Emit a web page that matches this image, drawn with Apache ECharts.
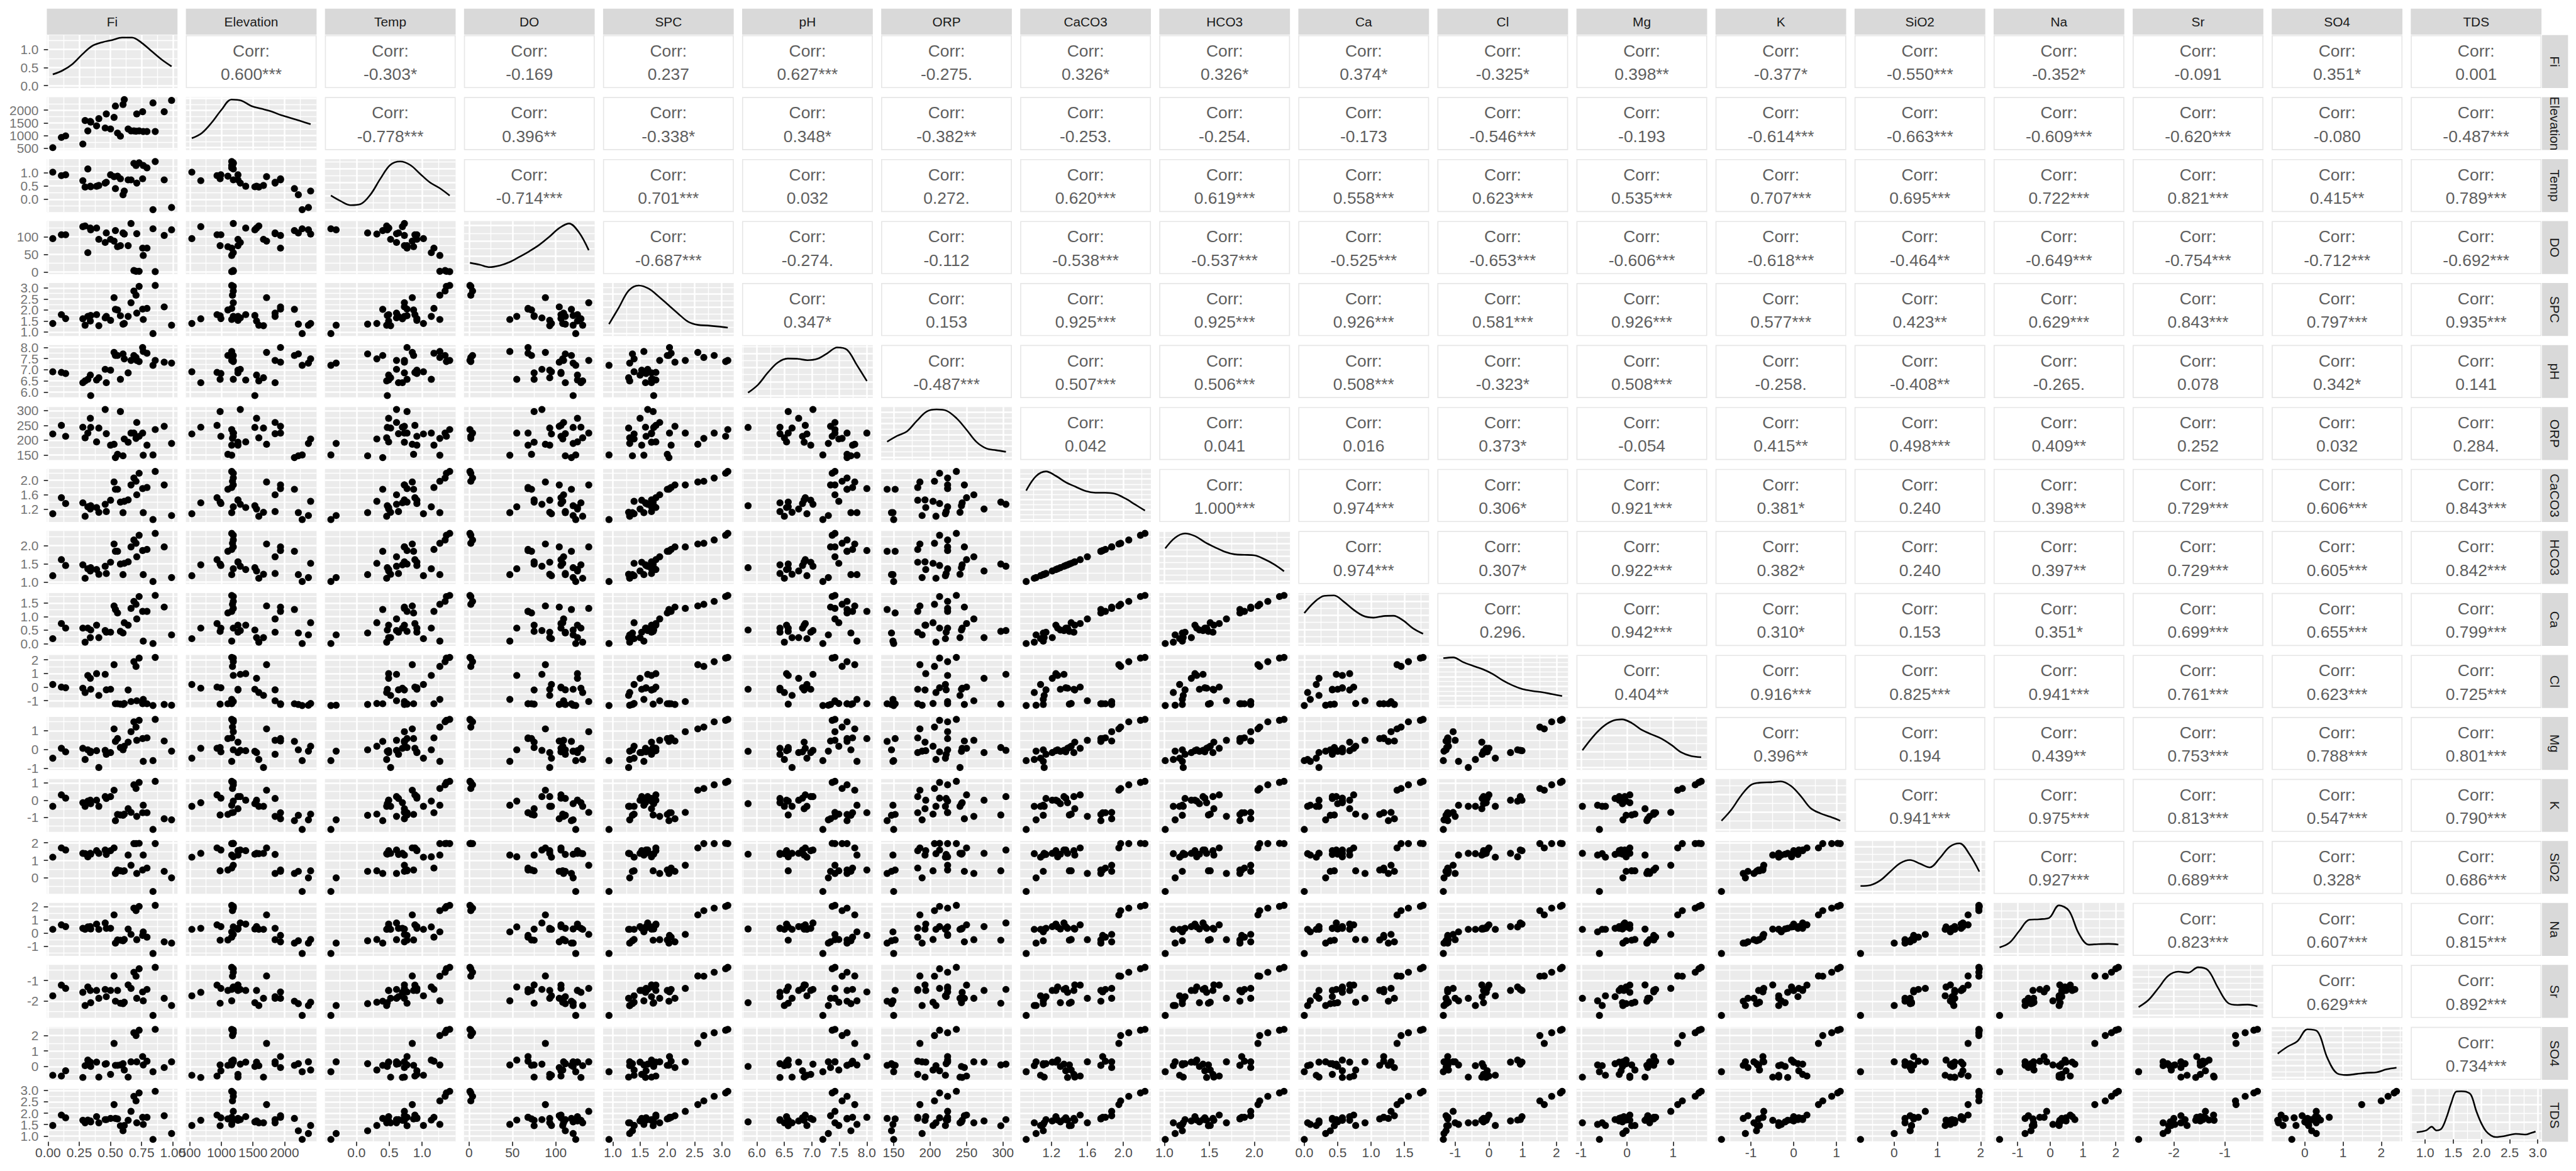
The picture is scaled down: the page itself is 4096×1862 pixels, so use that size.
<!DOCTYPE html>
<html><head><meta charset="utf-8">
<script src="https://cdn.jsdelivr.net/npm/echarts@6/dist/echarts.min.js"></script>
<style>html,body{margin:0;padding:0;background:#fff;}#chart{width:4096px;height:1862px;}</style>
</head><body><div id="chart"></div>
<script>
// ---------------- variable names ----------------
const names = ['Fi','Elevation','Temp','DO','SPC','pH','ORP','CaCO3','HCO3','Ca','Cl','Mg','K','SiO2','Na','Sr','SO4','TDS'];

const Fi        = [0.038,0.107,0.141,0.279,0.297,0.319,0.339,0.342,0.389,0.407,0.458,0.467,0.501,0.529,0.540,0.557,0.580,0.601,0.611,0.642,0.665,0.688,0.711,0.705,0.730,0.758,0.763,0.793,0.841,0.859,0.931,0.990];
const Elevation = [530,930,991,672,1593,1188,1557,1530,1385,1667,1299,1851,1262,1716,2158,1102,979,2220,2415,1262,1188,1188,1851,1175,1188,1937,1163,1163,2281,1163,1937,2380];
const Temp      = [1.02,0.89,0.92,0.70,0.46,1.14,0.49,0.47,0.49,0.52,0.61,0.64,0.92,0.85,0.40,0.87,0.77,0.17,0.31,0.73,0.73,1.35,0.61,1.27,1.37,0.77,1.27,1.18,-0.39,1.42,0.73,-0.31];
const DO        = [95,106,106,129,131,55,125,120,125,93,84,111,93,88,118,72,75,111,108,75,138,4,109,2,2,68,47,68,123,1,104,120];
const SPC       = [1.39,1.79,1.61,1.60,1.31,1.71,1.50,1.75,1.79,1.29,1.64,1.71,1.53,2.56,2.03,2.00,1.74,1.36,1.39,1.71,2.33,2.86,1.86,2.67,3.07,2.04,1.57,2.07,0.93,3.11,2.14,1.31];
const pH        = [6.91,6.88,6.83,6.42,6.50,6.57,6.76,5.84,6.54,6.64,7.02,6.42,6.98,7.78,7.64,7.64,6.57,7.71,7.49,6.86,7.42,7.64,7.42,7.55,7.37,8.00,7.82,7.74,7.20,7.42,7.34,7.30];
const ORP       = [221,250,213,244,208,224,274,243,194,241,304,222,183,186,141,152,297,147,204,193,224,224,260,206,213,224,149,183,150,236,247,189];
const CaCO3     = [1.08,1.52,1.36,1.38,1.01,1.27,1.21,1.30,1.25,1.12,1.34,1.14,1.45,1.95,1.75,1.75,1.40,1.11,1.42,1.46,1.87,2.06,1.60,1.97,2.19,1.77,1.11,1.80,0.92,2.24,1.87,1.03];
const HCO3      = [1.17,1.61,1.45,1.47,1.10,1.36,1.30,1.39,1.34,1.21,1.43,1.23,1.54,2.04,1.84,1.84,1.49,1.20,1.51,1.55,1.96,2.15,1.69,2.06,2.28,1.86,1.20,1.89,1.01,2.33,1.96,1.12];
const Ca        = [0.18,0.74,0.57,0.57,0.05,0.57,0.22,0.50,0.68,0.22,0.48,0.42,0.42,1.39,1.26,1.13,0.45,0.39,0.77,0.68,1.30,1.56,0.91,1.45,1.74,1.19,0.09,1.19,0.00,1.78,1.35,0.32];
const Cl        = [0.19,0.00,-0.05,-0.08,-0.40,0.85,0.64,-0.16,0.98,-0.61,0.93,-0.20,-0.16,1.64,-1.22,-1.22,-1.25,-1.27,-1.20,-0.21,-1.06,1.86,-1.00,1.51,2.12,-1.22,-0.90,-1.22,-1.35,2.17,-1.27,-1.33];
const Mg        = [-0.47,0.06,-0.13,0.06,-0.54,-0.02,-0.17,-0.10,-0.07,-0.97,-0.05,-0.26,-0.17,1.10,0.43,0.58,0.10,-0.02,0.17,0.39,0.95,1.48,0.49,1.20,1.56,0.58,-0.64,0.62,-0.60,1.61,0.45,-0.09];
const K         = [-0.35,0.31,0.12,-0.14,-0.35,-0.05,0.00,-0.20,0.00,-0.35,0.21,0.10,0.21,0.58,-1.18,-0.82,-0.85,-0.87,-0.80,-0.49,-0.70,0.89,-0.93,0.68,1.03,-0.72,-0.29,-0.72,-1.69,1.09,-1.07,-1.13];
const SiO2      = [1.18,1.71,1.59,1.40,1.38,1.20,1.40,1.35,1.55,1.40,1.59,1.34,1.55,1.71,0.25,0.45,0.40,0.37,0.40,1.30,0.72,1.96,0.25,1.96,1.97,0.45,1.30,0.56,-0.78,1.96,0.37,0.00];
const Na        = [0.27,0.61,0.48,0.35,0.27,0.45,0.48,0.30,0.67,0.27,0.75,0.35,0.35,1.36,-0.77,-0.53,-0.55,-0.59,-0.50,0.29,-0.11,1.87,-0.51,1.68,2.00,-0.19,0.08,-0.32,-1.55,2.08,-0.67,-0.77];
const Sr        = [-1.74,-1.22,-1.38,-1.57,-2.21,-1.31,-1.48,-2.07,-1.48,-1.86,-1.43,-1.78,-1.48,-0.78,-2.00,-1.48,-2.10,-2.12,-2.05,-1.21,-1.38,-0.60,-1.86,-0.79,-0.43,-1.55,-1.98,-1.43,-2.69,-0.36,-1.86,-2.21];
const SO4       = [-0.57,-0.62,-0.28,-0.71,0.05,0.41,0.28,0.00,0.28,-0.69,0.15,0.18,-0.51,1.49,0.07,0.07,0.10,0.18,-0.23,-0.69,0.30,2.18,0.30,2.00,2.34,0.64,0.10,0.34,-0.34,2.40,-0.07,0.30];
const TDS       = [1.46,1.92,1.80,1.69,1.58,1.70,1.66,1.62,1.85,1.58,1.72,1.72,1.77,2.38,1.77,1.75,1.45,1.23,1.46,1.69,2.08,2.74,1.58,2.54,2.89,1.82,1.51,1.82,0.85,2.96,1.89,1.11];

// ---------------- tick labels (axis breaks) ----------------
const ticksFi = [0,0.25,0.5,0.75,1];
const ticksElevation = [500,1000,1500,2000];
const ticksTemp = [0,0.5,1];
const ticksDO = [0,50,100];
const ticksSPC = [1,1.5,2,2.5,3];
const ticksPH = [6,6.5,7,7.5,8];
const ticksORP = [150,200,250,300];
const ticksCaCO3 = [1.2,1.6,2.0];
const ticksHCO3 = [1,1.5,2];
const ticksCa = [0,0.5,1,1.5];
const ticksCl = [-1,0,1,2];
const ticksMg = [-1,0,1];
const ticksK = [-1,0,1];
const ticksSiO2 = [0,1,2];
const ticksNa = [-1,0,1,2];
const ticksSr = [-2,-1];
const ticksSO4 = [0,1,2];
const ticksTDS = [1,1.5,2,2.5,3];
const tickDigits = [2,0,1,0,1,1,0,1,1,1,0,0,0,0,0,0,0,1];
const densTicksFi = [0,0.5,1.0];

// ---------------- diagonal density curves ----------------
const densXFi = [0.038,0.117,0.197,0.276,0.355,0.435,0.514,0.593,0.673,0.752,0.831,0.911,0.990];
const densYFi = [0.31,0.42,0.60,0.87,1.10,1.20,1.26,1.33,1.33,1.18,0.95,0.72,0.53];
const densXElevation = [530,687,844,1001,1158,1315,1473,1630,1787,1944,2101,2258,2415];
const densYElevation = [0.192,0.296,0.511,0.775,0.984,0.962,0.852,0.797,0.742,0.665,0.605,0.544,0.478];
const densXTemp = [-0.390,-0.239,-0.088,0.062,0.213,0.364,0.515,0.666,0.817,0.967,1.118,1.269,1.420];
const densYTemp = [0.292,0.175,0.093,0.115,0.313,0.643,0.929,1.0,0.929,0.747,0.566,0.445,0.292];
const densXDO = [1,12.4,23.8,35.3,46.7,58.1,69.5,80.9,92.3,103.8,115.2,126.6,138];
const densYDO = [0.183,0.142,0.093,0.126,0.197,0.307,0.423,0.555,0.720,0.902,1.0,0.819,0.445];
const densXSPC = [0.930,1.112,1.293,1.475,1.657,1.838,2.020,2.202,2.383,2.565,2.747,2.928,3.110];
const densYSPC = [0.197,0.544,0.896,1.0,0.935,0.775,0.593,0.412,0.247,0.181,0.168,0.148,0.123];
const densXPH = [5.84,6.02,6.20,6.38,6.56,6.74,6.92,7.10,7.28,7.46,7.64,7.82,8.00];
const densYPH = [0.060,0.225,0.478,0.687,0.769,0.764,0.736,0.764,0.879,1.0,0.951,0.632,0.302];
const densXORP = [141,154.6,168.2,181.8,195.3,208.9,222.5,236.1,249.7,263.3,276.8,290.4,304];
const densYORP = [0.329,0.450,0.544,0.764,0.957,1.0,0.973,0.819,0.583,0.329,0.192,0.153,0.120];
const densXCaCO3 = [0.92,1.03,1.14,1.25,1.36,1.47,1.58,1.69,1.80,1.91,2.02,2.13,2.24];
const densYCaCO3 = [0.601,0.902,1.0,0.907,0.775,0.681,0.593,0.558,0.557,0.533,0.440,0.313,0.186];
const densXHCO3 = [1.01,1.12,1.23,1.34,1.45,1.56,1.67,1.78,1.89,2.00,2.11,2.22,2.33];
const densYHCO3 = [0.689,0.912,1.0,0.945,0.819,0.714,0.621,0.566,0.555,0.544,0.467,0.357,0.214];
const densXCa = [0,0.148,0.297,0.445,0.593,0.742,0.890,1.038,1.187,1.335,1.483,1.632,1.780];
const densYCa = [0.632,0.857,0.990,1.0,0.868,0.698,0.571,0.538,0.571,0.577,0.478,0.313,0.203];
const densXCl = [-1.350,-1.057,-0.763,-0.470,-0.177,0.117,0.410,0.703,0.997,1.290,1.583,1.877,2.170];
const densYCl = [0.985,1.0,0.902,0.824,0.753,0.654,0.522,0.417,0.340,0.302,0.276,0.236,0.197];
const densXMg = [-0.970,-0.755,-0.540,-0.325,-0.110,0.105,0.320,0.535,0.750,0.965,1.180,1.395,1.610];
const densYMg = [0.357,0.621,0.836,0.967,1.0,0.923,0.780,0.687,0.599,0.467,0.313,0.236,0.214];
const densXK = [-1.690,-1.458,-1.227,-0.995,-0.763,-0.532,-0.300,-0.068,0.163,0.395,0.627,0.858,1.090];
const densYK = [0.181,0.412,0.709,0.929,0.975,0.982,1.0,0.907,0.698,0.445,0.335,0.263,0.181];
const densXSiO2 = [-0.780,-0.551,-0.322,-0.093,0.137,0.366,0.595,0.824,1.053,1.283,1.512,1.741,1.970];
const densYSiO2 = [0.114,0.131,0.230,0.412,0.588,0.654,0.579,0.500,0.692,0.929,1.0,0.775,0.412];
const densXNa = [-1.550,-1.248,-0.945,-0.643,-0.340,-0.038,0.265,0.568,0.870,1.173,1.475,1.778,2.080];
const densYNa = [0.123,0.220,0.467,0.693,0.704,0.731,0.99,0.88,0.412,0.181,0.192,0.197,0.183];
const densXSr = [-2.690,-2.496,-2.302,-2.108,-1.913,-1.719,-1.525,-1.331,-1.137,-0.943,-0.748,-0.554,-0.360];
const densYSr = [0.169,0.313,0.555,0.802,0.885,0.865,0.973,0.916,0.566,0.258,0.212,0.220,0.183];
const densXSO4 = [-0.710,-0.451,-0.192,0.068,0.327,0.586,0.845,1.104,1.363,1.623,1.882,2.141,2.400];
const densYSO4 = [0.480,0.621,0.731,0.97,0.93,0.401,0.082,0.049,0.071,0.093,0.104,0.164,0.197];
const densXTDS = [0.850,0.938,1.026,1.114,1.202,1.290,1.378,1.465,1.553,1.641,1.729,1.817,1.905,1.993,2.081,2.169,2.257,2.345,2.433,2.521,2.608,2.696,2.784,2.872,2.960];
const densYTDS = [0.151,0.164,0.192,0.263,0.186,0.225,0.456,0.764,0.995,1.0,0.99,0.918,0.599,0.346,0.170,0.082,0.049,0.060,0.076,0.098,0.115,0.109,0.101,0.131,0.164];

// ---------------- correlation labels (upper triangle, row by row) ----------------
const corrFi = ['0.600***','-0.303*','-0.169','0.237','0.627***','-0.275.','0.326*','0.326*','0.374*','-0.325*','0.398**','-0.377*','-0.550***','-0.352*','-0.091','0.351*','0.001'];
const corrElevation = ['-0.778***','0.396**','-0.338*','0.348*','-0.382**','-0.253.','-0.254.','-0.173','-0.546***','-0.193','-0.614***','-0.663***','-0.609***','-0.620***','-0.080','-0.487***'];
const corrTemp = ['-0.714***','0.701***','0.032','0.272.','0.620***','0.619***','0.558***','0.623***','0.535***','0.707***','0.695***','0.722***','0.821***','0.415**','0.789***'];
const corrDO = ['-0.687***','-0.274.','-0.112','-0.538***','-0.537***','-0.525***','-0.653***','-0.606***','-0.618***','-0.464**','-0.649***','-0.754***','-0.712***','-0.692***'];
const corrSPC = ['0.347*','0.153','0.925***','0.925***','0.926***','0.581***','0.926***','0.577***','0.423**','0.629***','0.843***','0.797***','0.935***'];
const corrPH = ['-0.487***','0.507***','0.506***','0.508***','-0.323*','0.508***','-0.258.','-0.408**','-0.265.','0.078','0.342*','0.141'];
const corrORP = ['0.042','0.041','0.016','0.373*','-0.054','0.415**','0.498***','0.409**','0.252','0.032','0.284.'];
const corrCaCO3 = ['1.000***','0.974***','0.306*','0.921***','0.381*','0.240','0.398**','0.729***','0.606***','0.843***'];
const corrHCO3 = ['0.974***','0.307*','0.922***','0.382*','0.240','0.397**','0.729***','0.605***','0.842***'];
const corrCa = ['0.296.','0.942***','0.310*','0.153','0.351*','0.699***','0.655***','0.799***'];
const corrCl = ['0.404**','0.916***','0.825***','0.941***','0.761***','0.623***','0.725***'];
const corrMg = ['0.396**','0.194','0.439**','0.753***','0.788***','0.801***'];
const corrK = ['0.941***','0.975***','0.813***','0.547***','0.790***'];
const corrSiO2 = ['0.927***','0.689***','0.328*','0.686***'];
const corrNa = ['0.823***','0.607***','0.815***'];
const corrSr = ['0.629***','0.892***'];
const corrSO4 = ['0.734***'];

// ---------------- assemble ----------------
const vars = [Fi,Elevation,Temp,DO,SPC,pH,ORP,CaCO3,HCO3,Ca,Cl,Mg,K,SiO2,Na,Sr,SO4,TDS];
const ticks = [ticksFi,ticksElevation,ticksTemp,ticksDO,ticksSPC,ticksPH,ticksORP,ticksCaCO3,ticksHCO3,ticksCa,ticksCl,ticksMg,ticksK,ticksSiO2,ticksNa,ticksSr,ticksSO4,ticksTDS];
const densXs = [densXFi,densXElevation,densXTemp,densXDO,densXSPC,densXPH,densXORP,densXCaCO3,densXHCO3,densXCa,densXCl,densXMg,densXK,densXSiO2,densXNa,densXSr,densXSO4,densXTDS];
const densYs = [densYFi,densYElevation,densYTemp,densYDO,densYSPC,densYPH,densYORP,densYCaCO3,densYHCO3,densYCa,densYCl,densYMg,densYK,densYSiO2,densYNa,densYSr,densYSO4,densYTDS];
const corrRows = [corrFi,corrElevation,corrTemp,corrDO,corrSPC,corrPH,corrORP,corrCaCO3,corrHCO3,corrCa,corrCl,corrMg,corrK,corrSiO2,corrNa,corrSr,corrSO4];

const S = 4096/5500;
const FONT = '"Liberation Sans", Arial, Helvetica, sans-serif';
const AX_FS = 28*S, STRIP_FS = 28*S, CORR_FS = 35.5*S;
const NV = names.length;
const colLeft = j => (100 + 296.9*j)*S;
const rowTop = i => (75 + 132.35*i)*S;
const PW = 279*S, PH = 113*S;

function fmt(v, d){ return (Math.abs(v) < 1e-12 ? 0 : v).toFixed(d); }

// ggplot-like continuous range: data range expanded by 5%
const ranges = vars.map(v => { const mn = Math.min(...v), mx = Math.max(...v), d = (mx - mn)*0.05; return [mn - d, mx + d]; });

// densities: Fi is in true units, others scaled so the curve integrates to one
const dens = densYs.map((ys, k) => {
  if (k === 0) return ys.slice();
  const xs = densXs[k]; let area = 0;
  for (let t = 1; t < xs.length; t++) area += (xs[t] - xs[t-1])*(ys[t] + ys[t-1])/2;
  return ys.map(y => y/area);
});

// labeling::extended (ggplot's default break algorithm), used for the density axes
function extendedBreaks(dmin, dmax, m){
  const Q = [1,5,2,2.5,4,3], w = [0.25,0.2,0.5,0.05], n = Q.length, eps = 1e-10;
  const mod = (a,b) => ((a % b) + b) % b;
  let best = null, bestScore = -2;
  const range = dmax - dmin;
  outer:
  for (let j = 1; j < 40; j++){
    for (let qi = 0; qi < n; qi++){
      const q = Q[qi];
      const sm = 1 - qi/(n-1) - j + 1;
      if (w[0]*sm + w[1] + w[2] + w[3] < bestScore) break outer;
      for (let k = 2; k < 40; k++){
        const dm = k >= m ? 2 - (k-1)/(m-1) : 1;
        if (w[0]*sm + w[1] + w[2]*dm + w[3] < bestScore) break;
        const delta = range/(k+1)/j/q;
        for (let z = Math.ceil(Math.log10(delta)); z < 40; z++){
          const step = j*q*Math.pow(10, z);
          const span = step*(k-1);
          let cm = 1;
          if (span > range){ const half = (span - range)/2; cm = 1 - 0.5*(2*half*half)/Math.pow(0.1*range, 2); }
          if (w[0]*sm + w[1]*cm + w[2]*dm + w[3] < bestScore) break;
          const minStart = Math.floor(dmax/step)*j - (k-1)*j;
          const maxStart = Math.ceil(dmin/step)*j;
          if (minStart > maxStart) continue;
          for (let start = minStart; start <= maxStart; start++){
            const lmin = start*(step/j), lmax = lmin + step*(k-1);
            const r0 = mod(lmin, step);
            const v = ((r0 < eps || step - r0 < eps) && lmin <= 0 && lmax >= 0) ? 1 : 0;
            const s = 1 - qi/(n-1) - j + v;
            const c = 1 - 0.5*(Math.pow(dmax - lmax, 2) + Math.pow(dmin - lmin, 2))/Math.pow(0.1*range, 2);
            const rr = (k-1)/(lmax - lmin), rt = (m-1)/(Math.max(lmax, dmax) - Math.min(dmin, lmin));
            const g = 2 - Math.max(rr/rt, rt/rr);
            const score = w[0]*s + w[1]*c + w[2]*g + w[3];
            if (score > bestScore){ bestScore = score; best = {lmin, lmax, step}; }
          }
        }
      }
    }
  }
  const out = [];
  for (let t = best.lmin; t <= best.lmax + best.step*1e-9; t += best.step) out.push(+t.toFixed(12));
  return out;
}

function minorBreaks(b, r){
  const st = b.length > 1 ? b[1] - b[0] : (r[1] - r[0]);
  const ext = [b[0] - st].concat(b, [b[b.length-1] + st]);
  const out = [];
  for (let t = 0; t < ext.length - 1; t++){
    const mid = (ext[t] + ext[t+1])/2;
    if (mid > r[0] && mid < r[1]) out.push(+mid.toFixed(12));
  }
  return out;
}

const densRanges = dens.map(d => { const mx = Math.max(...d); return [-0.05*mx, 1.05*mx]; });
const densBreaks = densRanges.map((r, k) => (k === 0 ? densTicksFi : extendedBreaks(r[0], r[1], 5)).filter(v => v >= r[0] && v <= r[1]));

const grids = [], xAxes = [], yAxes = [], series = [], graphics = [];

function majorAxis(dim, g, r, t, showTick, showLabel, dig){
  return {
    type: 'value', gridIndex: g, min: r[0], max: r[1],
    position: dim === 'x' ? 'bottom' : 'left',
    axisLine: {show: false},
    axisTick: {show: showTick, customValues: t, length: 9*S, lineStyle: {color: '#333333', width: 2.4*S}},
    axisLabel: {show: showLabel, customValues: t, formatter: v => fmt(v, dig), color: '#4D4D4D',
                showMinLabel: true, showMaxLabel: true, hideOverlap: false,
                fontSize: AX_FS, fontFamily: FONT, margin: 9*S},
    splitLine: {show: true, lineStyle: {color: '#FFFFFF', width: 3.4*S}},
    minorTick: {show: false}, minorSplitLine: {show: false},
    silent: true
  };
}
function minorAxis(dim, g, r, t){
  return {
    type: 'value', gridIndex: g, min: r[0], max: r[1],
    position: dim === 'x' ? 'bottom' : 'left',
    axisLine: {show: false},
    axisTick: {show: false, customValues: t},
    axisLabel: {show: false, customValues: t},
    splitLine: {show: true, lineStyle: {color: '#FFFFFF', width: 1.8*S}},
    silent: true
  };
}

let g = 0;
for (let i = 0; i < NV; i++){
  for (let j = 0; j < NV; j++){
    const L = colLeft(j), T = rowTop(i);
    if (i < j){
      graphics.push({type: 'rect', shape: {x: L + 1*S, y: T + 1*S, width: PW - 2*S, height: PH - 2*S},
        style: {fill: '#FFFFFF', stroke: '#E6E6E6', lineWidth: 2.2*S}, silent: true});
      const cx = L + PW/2, cy = T + PH/2 + 2*S;
      graphics.push({type: 'text', x: cx, y: cy - 25*S, silent: true,
        style: {text: 'Corr:', fill: '#5E5E5E', fontSize: CORR_FS, fontFamily: FONT, align: 'center', verticalAlign: 'middle'}});
      graphics.push({type: 'text', x: cx, y: cy + 25*S, silent: true,
        style: {text: corrRows[i][j - i - 1], fill: '#5E5E5E', fontSize: CORR_FS, fontFamily: FONT, align: 'center', verticalAlign: 'middle'}});
      continue;
    }
    grids.push({left: L, top: T, width: PW, height: PH, show: true, backgroundColor: '#EBEBEB',
                borderWidth: 0, containLabel: false, outerBoundsMode: 'none'});
    const xr = ranges[j], xt = ticks[j].filter(v => v >= xr[0] && v <= xr[1]);
    let yr, yt, ydig;
    if (i === j){ yr = densRanges[i]; yt = densBreaks[i]; ydig = 1; }
    else { yr = ranges[i]; yt = ticks[i].filter(v => v >= yr[0] && v <= yr[1]); ydig = tickDigits[i]; }
    const showX = (i === NV - 1), showY = (j === 0);
    xAxes.push(majorAxis('x', g, xr, xt, showX, showX, tickDigits[j]));
    xAxes.push(minorAxis('x', g, xr, minorBreaks(xt, xr)));
    yAxes.push(majorAxis('y', g, yr, yt, showY, false, ydig));
    yAxes.push(minorAxis('y', g, yr, minorBreaks(yt, yr)));
    const ai = 2*g;
    if (i === j){
      series.push({type: 'line', xAxisIndex: ai, yAxisIndex: ai,
        data: densXs[i].map((x, k) => [x, dens[i][k]]),
        showSymbol: false, symbol: 'none', smooth: 0.35,
        lineStyle: {color: '#000000', width: 3.5*S, opacity: 1}, silent: true, animation: false, z: 3});
    } else {
      series.push({type: 'scatter', xAxisIndex: ai, yAxisIndex: ai,
        data: vars[j].map((x, k) => [x, vars[i][k]]),
        symbol: 'circle', symbolSize: 15*S, itemStyle: {color: '#000000', opacity: 1},
        silent: true, animation: false, z: 3});
    }
    if (showY){
      // left-hand tick labels, placed on the panel's own y scale
      const dig = ydig;
      series.push({type: 'scatter', xAxisIndex: ai, yAxisIndex: ai, clip: false,
        data: yt.map(v => [xr[0], v]),
        symbol: 'circle', symbolSize: 0.01, itemStyle: {color: 'rgba(0,0,0,0)'},
        label: {show: true, position: 'left', distance: 17.5*S, formatter: p => fmt(p.value[1], dig),
                color: '#4D4D4D', fontSize: AX_FS, fontFamily: FONT, align: 'right', verticalAlign: 'middle'},
        labelLayout: {hideOverlap: false},
        silent: true, animation: false, z: 4});
    }
    g++;
  }
}

// top strips
for (let j = 0; j < NV; j++){
  const L = colLeft(j);
  graphics.push({type: 'rect', shape: {x: L, y: 18.5*S, width: PW, height: 55.5*S}, style: {fill: '#D9D9D9'}, silent: true});
  graphics.push({type: 'text', x: L + PW/2, y: (18.5 + 55.5/2)*S, silent: true,
    style: {text: names[j], fill: '#1A1A1A', fontSize: STRIP_FS, fontFamily: FONT, align: 'center', verticalAlign: 'middle'}});
}
// right strips
const stripX = 5427.5*S, stripW = 55.5*S;
for (let i = 0; i < NV; i++){
  const T = rowTop(i);
  graphics.push({type: 'rect', shape: {x: stripX, y: T, width: stripW, height: PH}, style: {fill: '#D9D9D9'}, silent: true});
  graphics.push({type: 'text', x: stripX + stripW/2, y: T + PH/2, rotation: -Math.PI/2, silent: true,
    style: {text: names[i], fill: '#1A1A1A', fontSize: STRIP_FS, fontFamily: FONT, align: 'center', verticalAlign: 'middle'}});
}

const chart = echarts.init(document.getElementById('chart'), null, {renderer: 'svg'});
chart.setOption({
  animation: false,
  backgroundColor: '#FFFFFF',
  grid: grids, xAxis: xAxes, yAxis: yAxes, series: series,
  graphic: {elements: graphics}
});
</script></body></html>
